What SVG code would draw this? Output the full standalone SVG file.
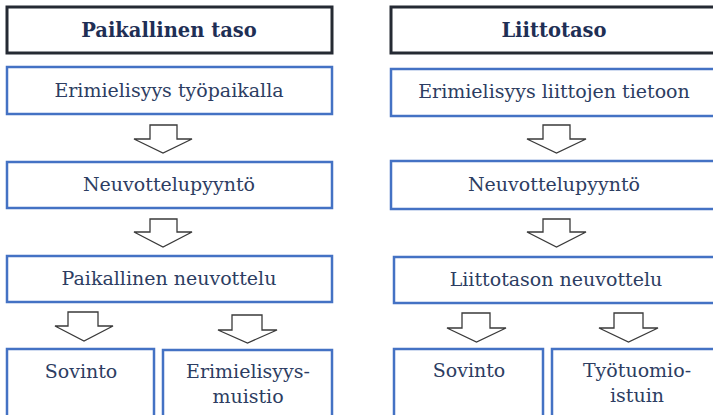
<svg xmlns="http://www.w3.org/2000/svg" width="713" height="415" viewBox="0 0 713 415">
<style>
.title{fill:#fff;stroke:#252a33;stroke-width:3}
.box{fill:#fff;stroke:#4472c4;stroke-width:2.5}
.arr{fill:#fff;stroke:#3a3a3a;stroke-width:1.3;stroke-linejoin:miter}
text{font-family:"DejaVu Serif","Liberation Serif",serif;font-size:19px;fill:#2d3d62;text-anchor:middle}
.tt{font-weight:bold;font-size:19.5px;fill:#1f2f55}
</style>
<rect width="713" height="415" fill="#fff"/>
<g id="connectors">
<path class="arr" d="M150,125H177V139H192L163,153L134,139H150Z"/>
<path class="arr" d="M150,219H177V232H192L163,247L134,232H150Z"/>
<path class="arr" d="M68,312H98V326H113L84,341L55,326H68Z"/>
<path class="arr" d="M232,315H262V330H277L247.5,343L218,330H232Z"/>
<path class="arr" d="M543,125H570V139H586L556.5,153L527,139H543Z"/>
<path class="arr" d="M543,219H570V232H586L556.5,247L527,232H543Z"/>
<path class="arr" d="M462,313H490V328H506L476.5,342L447,328H462Z"/>
<path class="arr" d="M614,313H643V328H658L628.5,342L599,328H614Z"/>
</g>
<g id="n-paikallinen-taso"><rect class="title" x="7" y="7" width="325" height="46"/><text class="tt" x="169" y="37">Paikallinen taso</text></g>
<g id="n-erimielisyys-tyopaikalla"><rect class="box" x="7" y="67" width="325" height="47"/><text x="169" y="97">Erimielisyys työpaikalla</text></g>
<g id="n-neuvottelupyynto-1"><rect class="box" x="7" y="162" width="325" height="46"/><text x="169" y="191">Neuvottelupyyntö</text></g>
<g id="n-paikallinen-neuvottelu"><rect class="box" x="7" y="256" width="325" height="46"/><text x="169" y="285">Paikallinen neuvottelu</text></g>
<g id="n-sovinto-1"><rect class="box" x="7" y="349" width="147" height="72"/><text x="81" y="378">Sovinto</text></g>
<g id="n-erimielisyysmuistio"><rect class="box" x="163" y="350" width="169" height="72"/><text x="248" y="378">Erimielisyys-</text><text x="248" y="403">muistio</text></g>
<g id="n-liittotaso"><rect class="title" x="391" y="7" width="326" height="46"/><text class="tt" x="554" y="37">Liittotaso</text></g>
<g id="n-erimielisyys-liittojen"><rect class="box" x="391" y="69" width="326" height="47"/><text x="554" y="98">Erimielisyys liittojen tietoon</text></g>
<g id="n-neuvottelupyynto-2"><rect class="box" x="391" y="161" width="326" height="48"/><text x="554" y="191">Neuvottelupyyntö</text></g>
<g id="n-liittotason-neuvottelu"><rect class="box" x="394" y="257" width="326" height="46"/><text x="556" y="286">Liittotason neuvottelu</text></g>
<g id="n-sovinto-2"><rect class="box" x="394" y="349" width="149" height="72"/><text x="469" y="377">Sovinto</text></g>
<g id="n-tyotuomioistuin"><rect class="box" x="552" y="349" width="170" height="72"/><text x="637" y="377">Työtuomio-</text><text x="637" y="402">istuin</text></g>
</svg>
